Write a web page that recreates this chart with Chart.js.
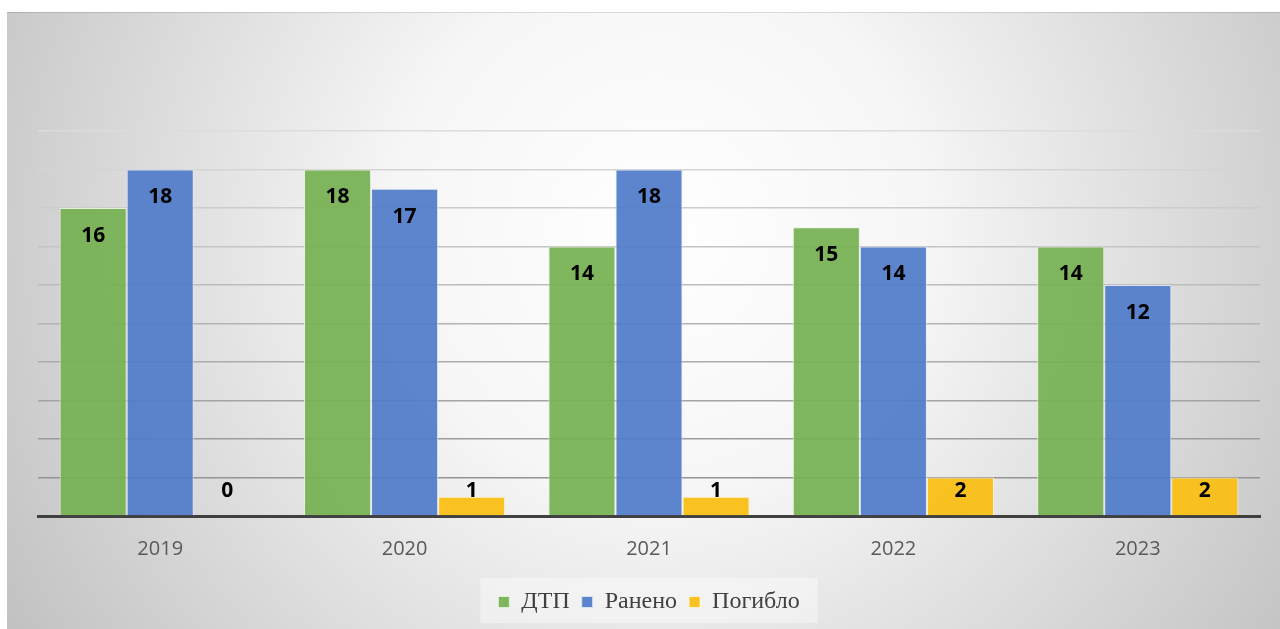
<!DOCTYPE html>
<html>
<head>
<meta charset="utf-8">
<script src="https://cdn.jsdelivr.net/npm/chart.js@4"></script>
<style>
  html, body { margin: 0; padding: 0; background: #ffffff; }
  #wrap { width: 1280px; height: 629px; position: relative; }
</style>
</head>
<body>
<div id="wrap"><canvas id="myChart" width="1280" height="629"></canvas></div>
<script>
//========================= Chart data ==================================//
const years = ['2019', '2020', '2021', '2022', '2023'];
const dtp = [16, 18, 14, 15, 14];
const raneno = [18, 17, 18, 14, 12];
const pogiblo = [0, 1, 1, 2, 2];
const yTicks = [0, 2, 4, 6, 8, 10, 12, 14, 16, 18, 20];

/***************************************************************
* Background card + legend box
****************************************************************/
const cardBg = {
  id: 'cardBg',
  beforeDraw(chart) {
    const c = chart.ctx;
    c.save();
    c.fillStyle = '#ffffff';
    c.fillRect(0, 0, chart.width, chart.height);
    const g = c.createRadialGradient(660, 230, 0, 660, 230, 760);
    g.addColorStop(0, '#ffffff');
    g.addColorStop(0.35, '#f6f6f6');
    g.addColorStop(1, '#c2c2c2');
    c.fillStyle = g;
    c.fillRect(7, 12, chart.width - 7, chart.height - 12);
    c.fillStyle = 'rgba(0,0,0,0.12)';
    c.fillRect(7, 12, chart.width - 7, 1);

    const boxes = chart.legend.legendHitBoxes;
    if (boxes && boxes.length) {
      const first = boxes[0], last = boxes[boxes.length - 1];
      const x0 = first.left - 18, x1 = last.left + last.width + 18;
      const yc = first.top + first.height / 2;
      c.fillStyle = 'rgba(255,255,255,0.4)';
      c.fillRect(x0, yc - 24, x1 - x0, 45);
    }
    c.restore();
  }
};

/***************************************************************
* Value labels (inside end)
****************************************************************/
const valueLabels = {
  id: 'valueLabels',
  afterDatasetsDraw(chart) {
    const c = chart.ctx;
    const base = chart.scales.y.getPixelForValue(0);
    c.save();
    c.font = 'bold 21px "Open Sans"';
    c.fillStyle = '#000000';
    c.textAlign = 'center';
    c.textBaseline = 'middle';
    chart.data.datasets.forEach((ds, i) => {
      chart.getDatasetMeta(i).data.forEach((bar, j) => {
        const y = Math.min(bar.y + 28, base - 25);
        c.fillText(String(ds.data[j]), bar.x, y);
      });
    });
    c.restore();
  }
};

function gridColor(ctx) {
  const t = ctx.tick ? ctx.tick.value / 20 : 0;
  const v = Math.round(140 + t * 80);
  return 'rgb(' + v + ',' + v + ',' + v + ')';
}

/***************************************************************
* Bar Chart
****************************************************************/
const ctx = document.getElementById('myChart').getContext('2d');

const myChart = new Chart(ctx, {
  type: 'bar',
  data: {
    labels: years,
    datasets: [
      {
        label: 'ДТП',
        data: dtp,
        backgroundColor: 'rgba(118,177,82,0.93)',
        borderColor: 'rgba(230,240,225,0.9)',
        borderWidth: 1
      },
      {
        label: 'Ранено',
        data: raneno,
        backgroundColor: 'rgba(80,124,201,0.93)',
        borderColor: 'rgba(225,232,245,0.9)',
        borderWidth: 1
      },
      {
        label: 'Погибло',
        data: pogiblo,
        backgroundColor: 'rgba(250,192,24,0.96)',
        borderColor: 'rgba(255,245,220,0.9)',
        borderWidth: 1
      }
    ]
  },
  options: {
    responsive: false,
    animation: false,
    devicePixelRatio: 1,
    layout: { padding: { left: 38, right: 20, top: 131, bottom: 5 } },
    datasets: { bar: { categoryPercentage: 0.823, barPercentage: 1 } },
    scales: {
      x: {
        grid: { display: false, drawTicks: false },
        border: { display: true, color: '#404040', width: 3 },
        ticks: {
          color: '#595959',
          font: { family: '"Open Sans"', size: 20 },
          padding: 21
        },
        afterFit(scale) { scale.height = 62; }
      },
      y: {
        min: 0,
        max: 20,
        afterBuildTicks(scale) { scale.ticks = yTicks.map(v => ({ value: v })); },
        grid: { color: gridColor, lineWidth: 1.5, drawTicks: false },
        border: { display: false },
        ticks: { display: false },
        afterFit(scale) { scale.width = 0; }
      }
    },
    plugins: {
      legend: {
        position: 'bottom',
        labels: {
          boxWidth: 11,
          boxHeight: 11,
          padding: 12,
          color: '#404040',
          font: { family: '"Times New Roman", "Liberation Serif", serif', size: 24 }
        }
      },
      tooltip: { enabled: false }
    }
  },
  plugins: [cardBg, valueLabels]
});
</script>
</body>
</html>
